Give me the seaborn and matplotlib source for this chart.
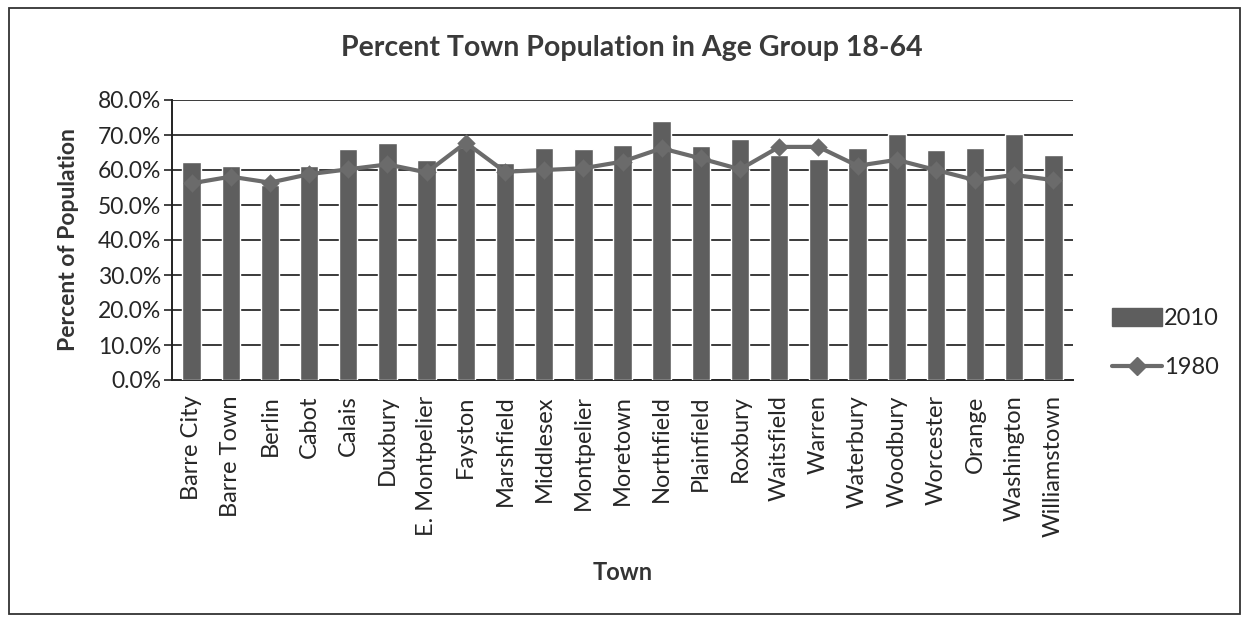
import matplotlib
matplotlib.use("Agg")
import matplotlib.pyplot as plt
import seaborn as sns
import pandas as pd
from matplotlib.patches import Rectangle
from matplotlib.lines import Line2D
from matplotlib.ticker import FuncFormatter

towns = ["Barre City", "Barre Town", "Berlin", "Cabot", "Calais", "Duxbury",
         "E. Montpelier", "Fayston", "Marshfield", "Middlesex", "Montpelier",
         "Moretown", "Northfield", "Plainfield", "Roxbury", "Waitsfield",
         "Warren", "Waterbury", "Woodbury", "Worcester", "Orange",
         "Washington", "Williamstown"]
pct_2010 = [62.4, 61.1, 55.6, 61.1, 65.9, 67.6, 62.9, 66.5, 61.9, 66.2, 65.9,
            67.1, 74.0, 66.9, 69.0, 64.3, 63.1, 66.2, 70.3, 65.7, 66.2, 70.3, 64.3]
pct_1980 = [56.2, 58.1, 56.4, 58.8, 60.2, 61.6, 59.3, 67.8, 59.5, 60.0, 60.5,
            62.4, 66.2, 63.3, 60.2, 66.6, 66.6, 61.2, 62.9, 60.0, 57.1, 58.6, 57.1]
yticks = [0, 10, 20, 30, 40, 50, 60, 70, 80]

sns.set_theme(style="white")
FONT = ["Lato", "DejaVu Sans"]
plt.rcParams["font.family"] = FONT

df = pd.DataFrame({"Town": towns, "2010": pct_2010, "1980": pct_1980})

fig = plt.figure(figsize=(12.48, 6.19), dpi=100)
ax = fig.add_axes([172/1248, 1-380/619, (1073-172)/1248, (380-100)/619])

bar_col = "#5e5e5e"
line_col = "#6b6b6b"
grid_col = "#3a3a3a"
txt_col = "#262626"

sns.barplot(data=df, x="Town", y="2010", order=towns, color=bar_col,
            width=0.47, saturation=1, ax=ax, zorder=3)
sns.pointplot(data=df, x="Town", y="1980", order=towns, color=line_col,
              markers="D", markersize=7, linewidth=3, ax=ax, zorder=4)

ax.set_ylim(0, 80)
ax.set_xlim(-0.5, len(towns) - 0.5)
ax.set_yticks(yticks)
ax.yaxis.set_major_formatter(FuncFormatter(lambda v, p: f"{v:.1f}%"))
for y in yticks[1:]:
    ax.axhline(y, color=grid_col, lw=1.4, zorder=1)

for s in ["top", "right"]:
    ax.spines[s].set_visible(False)
ax.spines["left"].set_color("#222222")
ax.spines["left"].set_linewidth(1.4)
ax.spines["bottom"].set_color("#222222")
ax.spines["bottom"].set_linewidth(1.4)

ax.tick_params(axis="y", which="both", left=True, length=6, width=1.2,
               color="#222222", labelsize=16.5, pad=2, labelcolor=txt_col)
ax.tick_params(axis="x", bottom=False, labelsize=17, pad=5, labelcolor=txt_col)
plt.setp(ax.get_xticklabels(), rotation=90)

ax.set_xlabel("Town", fontsize=17, fontweight="bold", color="#333333", labelpad=17)
ax.set_ylabel("Percent of Population", fontsize=16.5, fontweight="bold",
              color="#333333", labelpad=13)
fig.text(632/1248, 1-48/619, "Percent Town Population in Age Group 18-64",
         ha="center", va="center", fontsize=20.5, fontweight="bold", color="#3a3a3a")

handles = [Rectangle((0, 0), 1, 1, color=bar_col),
           Line2D([0], [0], color=line_col, lw=3, marker="D", markersize=9)]
fig.legend(handles, ["2010", "1980"], loc="center left",
           bbox_to_anchor=(1091/1248, 1-343/619), frameon=False,
           fontsize=17, handlelength=2.1, handleheight=0.8, labelspacing=1.2,
           handletextpad=0.1, labelcolor=txt_col)

fig.patches.append(Rectangle((9/1248, 1-614/619), (1240-9)/1248, (614-8)/619,
                             transform=fig.transFigure, fill=False,
                             edgecolor="#333333", lw=1.3))

fig.savefig("out.png", dpi=100, facecolor="white")
